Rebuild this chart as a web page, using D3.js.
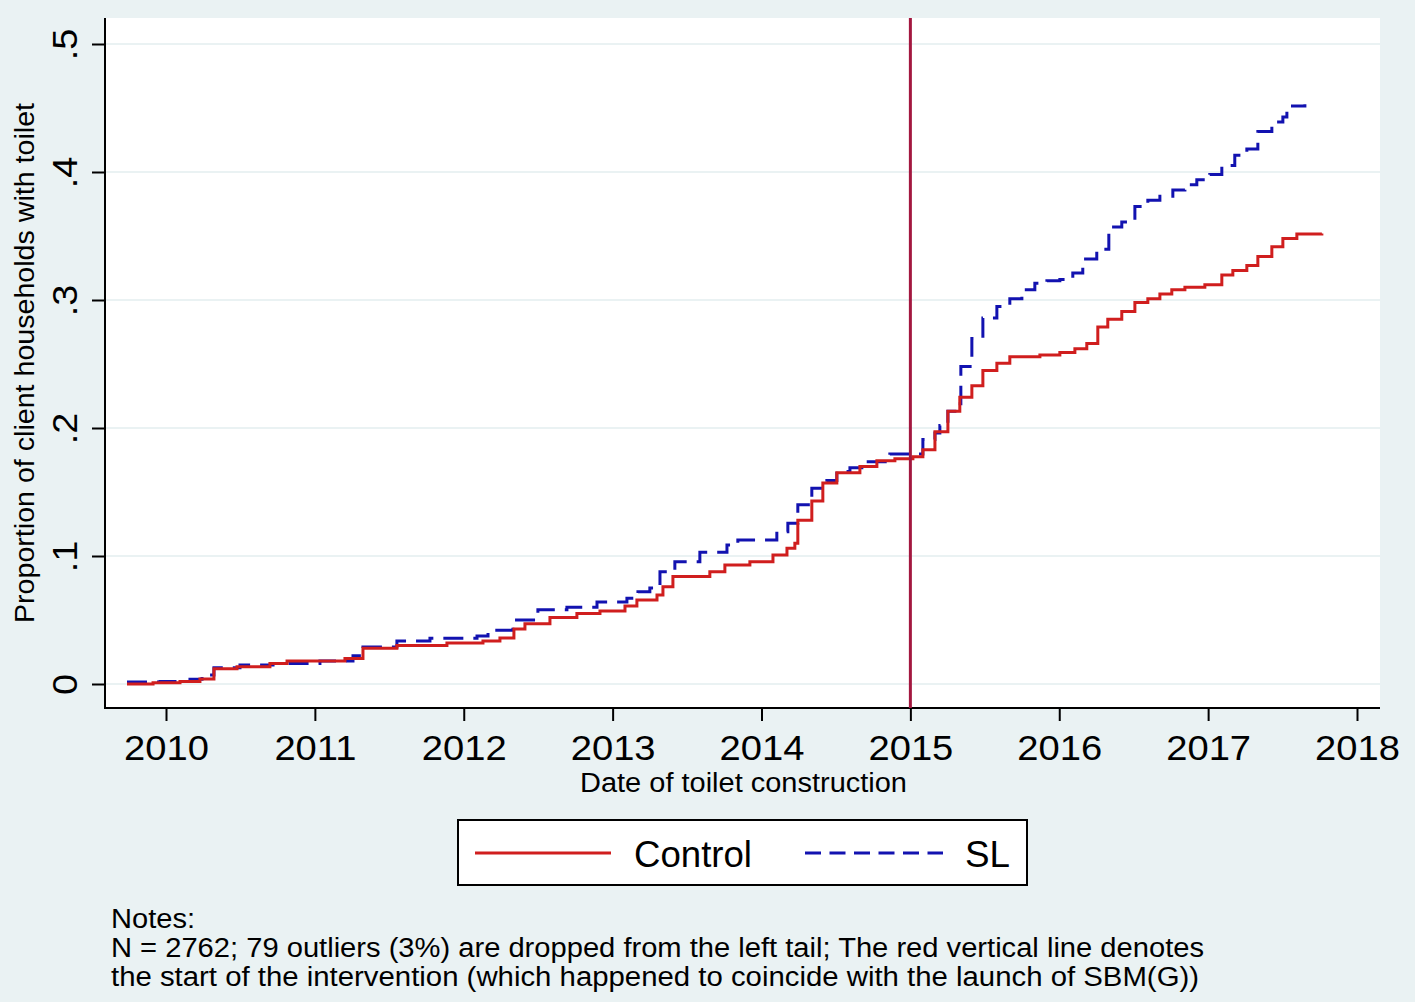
<!DOCTYPE html>
<html>
<head>
<meta charset="utf-8">
<script src="https://cdn.jsdelivr.net/npm/d3@7"></script>
<style>
  html, body { margin: 0; padding: 0; background: #eaf2f3; }
  svg { display: block; font-family: "Liberation Sans", Arial, sans-serif; }
</style>
</head>
<body>
<svg id="chart" width="1415" height="1002"></svg>
<script>
// ---- Data ----
const controlDates = [2009.738, 2009.913, 2010.094, 2010.228, 2010.322, 2010.477, 2010.698, 2010.813, 2011.202, 2011.323, 2011.551, 2011.887, 2012.129, 2012.243, 2012.337, 2012.411, 2012.579, 2012.760, 2012.915, 2013.083, 2013.163, 2013.298, 2013.338, 2013.405, 2013.653, 2013.754, 2013.922, 2014.077, 2014.171, 2014.224, 2014.244, 2014.338, 2014.412, 2014.506, 2014.661, 2014.775, 2014.896, 2015.017, 2015.084, 2015.165, 2015.252, 2015.332, 2015.413, 2015.487, 2015.581, 2015.668, 2015.870, 2016.004, 2016.105, 2016.185, 2016.259, 2016.326, 2016.420, 2016.508, 2016.595, 2016.676, 2016.756, 2016.844, 2016.978, 2017.092, 2017.166, 2017.260, 2017.334, 2017.428, 2017.502, 2017.596, 2017.764];
const controlValues = [0.000, 0.001, 0.002, 0.004, 0.012, 0.0135, 0.016, 0.018, 0.020, 0.028, 0.030, 0.032, 0.0336, 0.036, 0.043, 0.047, 0.052, 0.055, 0.057, 0.061, 0.0656, 0.0695, 0.076, 0.084, 0.0877, 0.093, 0.0956, 0.1008, 0.106, 0.110, 0.128, 0.143, 0.157, 0.165, 0.170, 0.1745, 0.176, 0.1776, 0.183, 0.197, 0.213, 0.224, 0.233, 0.245, 0.2505, 0.2557, 0.257, 0.259, 0.262, 0.266, 0.279, 0.285, 0.291, 0.298, 0.301, 0.3047, 0.308, 0.310, 0.312, 0.3195, 0.323, 0.327, 0.334, 0.3416, 0.348, 0.3516, 0.352];

const slDates = [2009.738, 2009.960, 2010.161, 2010.242, 2010.322, 2010.497, 2010.719, 2011.034, 2011.256, 2011.323, 2011.551, 2011.773, 2012.089, 2012.163, 2012.330, 2012.498, 2012.693, 2012.895, 2013.096, 2013.170, 2013.250, 2013.318, 2013.418, 2013.586, 2013.768, 2013.841, 2014.103, 2014.177, 2014.244, 2014.338, 2014.439, 2014.506, 2014.594, 2014.674, 2014.862, 2015.084, 2015.165, 2015.198, 2015.252, 2015.312, 2015.339, 2015.413, 2015.487, 2015.581, 2015.668, 2015.749, 2015.836, 2015.917, 2016.004, 2016.091, 2016.158, 2016.252, 2016.333, 2016.420, 2016.508, 2016.595, 2016.676, 2016.763, 2016.844, 2016.924, 2017.011, 2017.092, 2017.179, 2017.260, 2017.334, 2017.428, 2017.502, 2017.529, 2017.650];
const slValues = [0.0016, 0.002, 0.0037, 0.007, 0.0127, 0.0148, 0.016, 0.018, 0.022, 0.029, 0.0336, 0.0357, 0.0375, 0.042, 0.050, 0.058, 0.060, 0.064, 0.067, 0.072, 0.075, 0.0877, 0.0956, 0.103, 0.1086, 0.1125, 0.119, 0.1255, 0.140, 0.153, 0.159, 0.166, 0.169, 0.1737, 0.1797, 0.191, 0.196, 0.202, 0.213, 0.219, 0.248, 0.270, 0.286, 0.295, 0.301, 0.308, 0.313, 0.315, 0.316, 0.321, 0.332, 0.3396, 0.357, 0.361, 0.373, 0.378, 0.381, 0.386, 0.390, 0.394, 0.398, 0.405, 0.413, 0.418, 0.4316, 0.439, 0.443, 0.4516, 0.453];

const xTicks = [2010, 2011, 2012, 2013, 2014, 2015, 2016, 2017, 2018];
const yTicks = [0, 0.1, 0.2, 0.3, 0.4, 0.5];
const yTickLabels = ["0", ".1", ".2", ".3", ".4", ".5"];
const interventionDate = 2015;
const seriesNames = ["Control", "SL"];
const xTitle = "Date of toilet construction";
const yTitle = "Proportion of client households with toilet";
const notes = [
  "Notes:",
  "N = 2762; 79 outliers (3%) are dropped from the left tail; The red vertical line denotes",
  "the start of the intervention (which happened to coincide with the launch of SBM(G))"
];

// ---- Layout ----
const W = 1415, H = 1002;
const plot = { left: 105, right: 1380, top: 18, bottom: 708 };
const RED = "#d01e1e", BLUE = "#1212b0", MAROON = "#a3173f", BG = "#eaf2f3";

const x = d3.scaleLinear().domain([2010, 2018]).range([166, 1357]);
const y = d3.scaleLinear().domain([0, 0.5]).range([684, 44]);

const svg = d3.select("#chart");
svg.append("rect").attr("width", W).attr("height", H).attr("fill", BG);

// plot region
svg.append("rect")
  .attr("x", plot.left).attr("y", plot.top)
  .attr("width", plot.right - plot.left).attr("height", plot.bottom - plot.top)
  .attr("fill", "#ffffff");

// grid lines
svg.append("g").selectAll("line").data(yTicks).join("line")
  .attr("x1", plot.left).attr("x2", plot.right)
  .attr("y1", d => y(d)).attr("y2", d => y(d))
  .attr("stroke", BG).attr("stroke-width", 2);

// y axis
const yAxis = d3.axisLeft(y).tickValues(yTicks)
  .tickFormat((d, i) => yTickLabels[i]).tickSize(13).tickSizeOuter(0).tickPadding(8);
const gy = svg.append("g").attr("transform", `translate(${plot.left},0)`).call(yAxis);
gy.select(".domain").remove();
gy.selectAll(".tick line").attr("stroke", "#000").attr("stroke-width", 2);
gy.selectAll(".tick text")
  .attr("font-size", 35).attr("fill", "#000")
  .attr("text-anchor", "middle")
  .attr("x", 0).attr("dy", null)
  .attr("transform", "translate(-40,0) rotate(-90) scale(1.08,1)")
  .attr("dominant-baseline", "central");

// x axis
const xAxis = d3.axisBottom(x).tickValues(xTicks).tickFormat(d3.format("d"))
  .tickSize(13).tickSizeOuter(0).tickPadding(14);
const gx = svg.append("g").attr("transform", `translate(0,${plot.bottom})`).call(xAxis);
gx.select(".domain").remove();
gx.selectAll(".tick line").attr("stroke", "#000").attr("stroke-width", 2);
gx.selectAll(".tick text").attr("font-size", 35).attr("fill", "#000")
  .attr("transform", "scale(1.09,1)");

// axis lines
svg.append("line").attr("x1", plot.left).attr("x2", plot.left)
  .attr("y1", plot.top).attr("y2", plot.bottom + 1)
  .attr("stroke", "#000").attr("stroke-width", 2);
svg.append("line").attr("x1", plot.left - 1).attr("x2", plot.right)
  .attr("y1", plot.bottom).attr("y2", plot.bottom)
  .attr("stroke", "#000").attr("stroke-width", 2);

// step lines
const line = d3.line().x(d => x(d[0])).y(d => y(d[1])).curve(d3.curveStepAfter);
const controlData = controlDates.map((d, i) => [d, controlValues[i]]);
const slData = slDates.map((d, i) => [d, slValues[i]]);

svg.append("path").datum(slData).attr("d", line)
  .attr("fill", "none").attr("stroke", BLUE).attr("stroke-width", 3)
  .attr("stroke-dasharray", "20,10");
svg.append("path").datum(controlData).attr("d", line)
  .attr("fill", "none").attr("stroke", RED).attr("stroke-width", 3);

// vertical intervention line
svg.append("line")
  .attr("x1", x(interventionDate)).attr("x2", x(interventionDate))
  .attr("y1", plot.top).attr("y2", plot.bottom)
  .attr("stroke", MAROON).attr("stroke-width", 3);

// axis titles
svg.append("text").attr("x", 580).attr("y", 792)
  .attr("font-size", 27).attr("textLength", 327).attr("lengthAdjust", "spacingAndGlyphs")
  .text(xTitle);
svg.append("text").attr("transform", `translate(34,623) rotate(-90)`)
  .attr("font-size", 27).attr("textLength", 520).attr("lengthAdjust", "spacingAndGlyphs")
  .text(yTitle);

// legend
const lg = svg.append("g");
lg.append("rect").attr("x", 458).attr("y", 820).attr("width", 569).attr("height", 65)
  .attr("fill", "#fff").attr("stroke", "#000").attr("stroke-width", 2);
lg.append("line").attr("x1", 475).attr("x2", 611).attr("y1", 853).attr("y2", 853)
  .attr("stroke", RED).attr("stroke-width", 3);
lg.append("text").attr("x", 634).attr("y", 867).attr("font-size", 36)
  .attr("textLength", 118).attr("lengthAdjust", "spacingAndGlyphs").text(seriesNames[0]);
lg.append("line").attr("x1", 805).attr("x2", 943).attr("y1", 853).attr("y2", 853)
  .attr("stroke", BLUE).attr("stroke-width", 3).attr("stroke-dasharray", "16,8.5");
lg.append("text").attr("x", 965).attr("y", 867).attr("font-size", 36)
  .attr("textLength", 45).attr("lengthAdjust", "spacingAndGlyphs").text(seriesNames[1]);

// notes
const noteLengths = [84, 1093, 1088];
svg.append("g").selectAll("text").data(notes).join("text")
  .attr("x", 111).attr("y", (d, i) => 928 + i * 29)
  .attr("font-size", 27)
  .attr("textLength", (d, i) => noteLengths[i]).attr("lengthAdjust", "spacingAndGlyphs")
  .text(d => d);
</script>
</body>
</html>
